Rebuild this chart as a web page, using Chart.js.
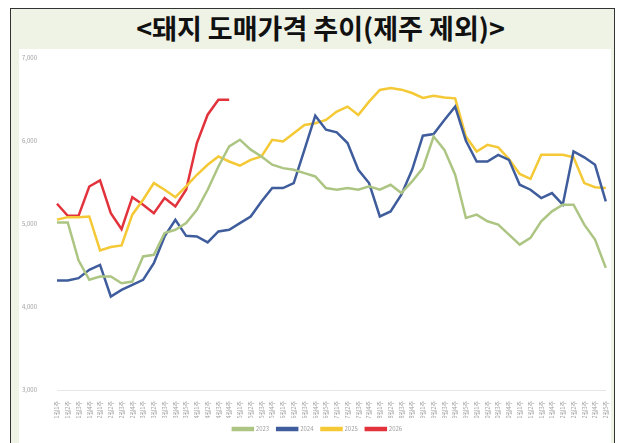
<!DOCTYPE html>
<html>
<head>
<meta charset="utf-8">
<script src="https://cdn.jsdelivr.net/npm/chart.js@4"></script>
<style>
  body { margin: 0; background: #fff; width: 618px; height: 443px; overflow: hidden; position: relative; }
  .frame { position: absolute; left: 10px; top: 8px; width: 603px; height: 445px; border: 1.5px solid #333; background: #eef3e6; }
  .title { position: absolute; left: 8px; top: 0; width: 100%; height: 40px; line-height: 38px; text-align: center;
    font-family: "Noto Sans CJK KR", sans-serif; font-weight: bold; font-size: 27px; color: #111; }
  .box { position: absolute; left: 8px; top: 40px; width: 592px; height: 395px; background: #fff; overflow: hidden; }
  #grafico { position: absolute; left: 0; top: -7px; }
</style>
</head>
<body>
<div class="frame">
  <div class="title">&lt;돼지 도매가격 추이(제주 제외)&gt;</div>
  <div class="box"><canvas id="grafico" width="597" height="402"></canvas></div>
</div>
<script>
const semanas = [
  "1월1주","1월2주","1월3주","1월4주","2월1주","2월2주","2월3주","2월4주",
  "3월1주","3월2주","3월3주","3월4주","3월5주","4월1주","4월2주","4월3주",
  "4월4주","5월1주","5월2주","5월3주","5월4주","6월1주","6월2주","6월3주",
  "6월4주","6월5주","7월1주","7월2주","7월3주","7월4주","8월1주","8월2주",
  "8월3주","8월4주","9월1주","9월2주","9월3주","9월4주","9월5주","10월1주",
  "10월2주","10월3주","10월4주","11월1주","11월2주","11월3주","11월4주","12월1주",
  "12월2주","12월3주","12월4주","12월5주"
];

const preco2023 = [5016, 5016, 4560, 4326, 4366, 4366, 4285, 4305, 4607, 4627, 4888, 4928, 5008,
  5169, 5410, 5690, 5932, 6012, 5892, 5811, 5711, 5670, 5650, 5610, 5570, 5430,
  5410, 5430, 5410, 5450, 5410, 5470, 5370, 5510, 5670, 6050, 5890, 5590, 5070,
  5110, 5030, 4990, 4870, 4750, 4830, 5030, 5150, 5230, 5230, 4990, 4810, 4470];

const preco2024 = [4318, 4318, 4346, 4446, 4506, 4125, 4205, 4265, 4325, 4526, 4848, 5048, 4855,
  4848, 4776, 4908, 4928, 5008, 5088, 5269, 5430, 5430, 5490, 5892, 6301, 6133,
  6100, 5972, 5650, 5490, 5088, 5149, 5350, 5650, 6060, 6080, 6250, 6410, 6000,
  5750, 5750, 5830, 5770, 5470, 5410, 5310, 5370, 5230, 5870, 5800, 5710, 5270];

const preco2025 = [5050, 5080, 5080, 5088, 4680, 4720, 4740, 5110, 5290, 5490, 5410, 5320, 5450,
  5590, 5710, 5810, 5750, 5700, 5770, 5810, 6010, 5990, 6090, 6190, 6210, 6250,
  6350, 6410, 6310, 6470, 6610, 6635, 6614, 6574, 6514, 6540, 6520, 6510, 6050,
  5870, 5950, 5920, 5780, 5600, 5540, 5830, 5830, 5830, 5800, 5490, 5440, 5430];

const preco2026 = [5241, 5096, 5096, 5449, 5522, 5128, 4936, 5321, 5229, 5128, 5309, 5209, 5410,
  5972, 6313, 6494, 6494];

const anos = ["2023", "2024", "2025", "2026"];
const cores = ["#adc583", "#3f5d9c", "#f4c935", "#e2323c"];
const series = [preco2023, preco2024, preco2025, preco2026];

const yTicks = [3000, 4000, 5000, 6000, 7000];

new Chart(document.getElementById("grafico"), {
  type: "line",
  data: {
    labels: semanas,
    datasets: anos.map((ano, i) => ({
      label: ano,
      data: series[i],
      borderColor: cores[i],
      backgroundColor: cores[i],
      borderWidth: 2.5,
      pointRadius: 0,
      tension: 0,
      fill: false,
    })),
  },
  options: {
    responsive: false,
    animation: false,
    layout: { padding: { top: 3, right: 0, bottom: 2, left: 0 } },
    scales: {
      y: {
        min: 3000,
        max: 7000,
        afterBuildTicks: (scale) => { scale.ticks = yTicks.map((v) => ({ value: v })); },
        afterFit: (scale) => { scale.width = 38; },
        grid: { display: false },
        border: { display: false },
        ticks: {
          color: "#a0a0a0",
          font: { size: 6, family: "Noto Sans CJK KR" },
          padding: 12,
          callback: (v) => v.toLocaleString("en-US"),
        },
      },
      x: {
        offset: false,
        afterFit: (scale) => { scale.height = 28; },
        grid: { display: false },
        border: { color: "#e6e6e6", dash: [2, 2] },
        ticks: {
          autoSkip: false,
          minRotation: 90,
          maxRotation: 90,
          color: "#a0a0a0",
          font: { size: 6, family: "Noto Sans CJK KR" },
        },
      },
    },
    plugins: {
      legend: {
        position: "bottom",
        labels: {
          boxWidth: 20,
          boxHeight: 2,
          color: "#a0a0a0",
          font: { size: 6, family: "Noto Sans CJK KR" },
          padding: 8,
        },
      },
      tooltip: { enabled: false },
    },
  },
});
</script>
</body>
</html>
